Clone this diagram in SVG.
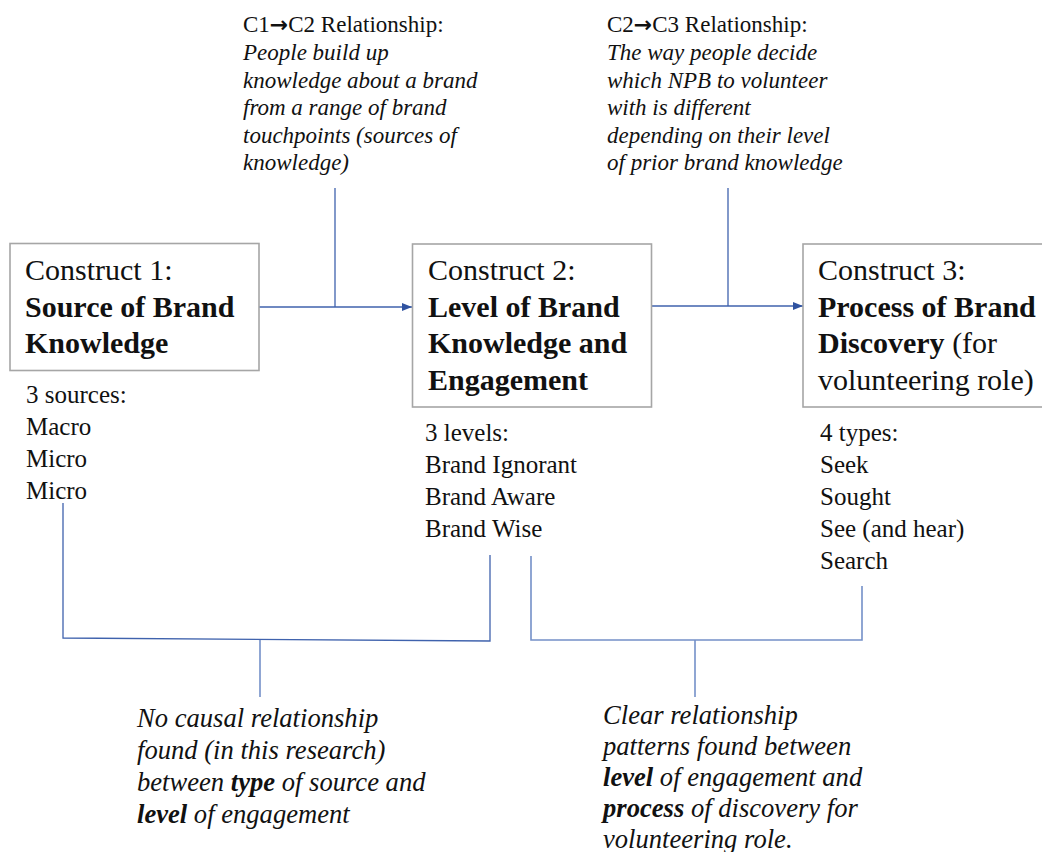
<svg xmlns="http://www.w3.org/2000/svg" width="1042" height="852" viewBox="0 0 1042 852">
<style>
text{font-family:"Liberation Serif","Times New Roman",Times,serif;fill:#111;}
.box{fill:#fff;stroke:#a6a6a6;stroke-width:1.6;}
.h{font-size:30px;}
.b{font-weight:bold;}
.sub{font-size:25px;}
.top{font-size:23px;}
.it{font-style:italic;}
.bot{font-size:26.6px;font-style:italic;}
.arr{font-family:"DejaVu Sans",sans-serif;font-weight:bold;font-size:22px;}
.c{fill:none;stroke:#3f62ad;stroke-width:1.3;}
.c2{fill:none;stroke:#7490c8;stroke-width:1.6;}
</style>
<defs>
<marker id="ah" viewBox="0 0 10 10" refX="10" refY="5" markerWidth="10" markerHeight="10" markerUnits="userSpaceOnUse" orient="auto">
<path d="M0,1 L10,5 L0,9 Z" fill="#2f52a0"/>
</marker>
</defs>
<g id="connectors">
<path class="c" d="M259,307 H412" marker-end="url(#ah)"/>
<path class="c" d="M335,188 V307"/>
<path class="c" d="M652,306 H803" marker-end="url(#ah)"/>
<path class="c" d="M728,188 V306"/>
<path class="c" d="M63,503 V638 L490,641 V555"/>
<path class="c2" d="M260,640 V697"/>
<path class="c2" d="M531,556 V640 H862 V586"/>
<path class="c2" d="M695,640 V697"/>
</g>
<g id="construct1">
<rect class="box" x="10" y="243.5" width="249" height="127"/>
<text class="h" x="25" y="280">Construct 1:</text>
<text class="h b" x="25" y="316.5">Source of Brand</text>
<text class="h b" x="25" y="353">Knowledge</text>
</g>
<g id="sources">
<text class="sub" x="26" y="403">3 sources:</text>
<text class="sub" x="26" y="435">Macro</text>
<text class="sub" x="26" y="467">Micro</text>
<text class="sub" x="26" y="499">Micro</text>
</g>
<g id="construct2">
<rect class="box" x="412.5" y="244" width="239" height="163"/>
<text class="h" x="428" y="280">Construct 2:</text>
<text class="h b" x="428" y="316.5">Level of Brand</text>
<text class="h b" x="428" y="353">Knowledge and</text>
<text class="h b" x="428" y="389.5">Engagement</text>
</g>
<g id="levels">
<text class="sub" x="425" y="441">3 levels:</text>
<text class="sub" x="425" y="473">Brand Ignorant</text>
<text class="sub" x="425" y="505">Brand Aware</text>
<text class="sub" x="425" y="537">Brand Wise</text>
</g>
<g id="construct3">
<rect class="box" x="803" y="244" width="260" height="163"/>
<text class="h" x="818" y="280">Construct 3:</text>
<text class="h b" x="818" y="316.5">Process of Brand</text>
<text class="h" x="818" y="353"><tspan class="b">Discovery</tspan> (for</text>
<text class="h" x="818" y="389.5">volunteering role)</text>
</g>
<g id="types">
<text class="sub" x="820" y="441">4 types:</text>
<text class="sub" x="820" y="473">Seek</text>
<text class="sub" x="820" y="505">Sought</text>
<text class="sub" x="820" y="537">See (and hear)</text>
<text class="sub" x="820" y="569">Search</text>
</g>
<g id="rel12">
<text class="top" x="243" y="32">C1<tspan class="arr">→</tspan>C2 Relationship:</text>
<text class="top it" x="243" y="60">People build up</text>
<text class="top it" x="243" y="87.5">knowledge about a brand</text>
<text class="top it" x="243" y="115">from a range of brand</text>
<text class="top it" x="243" y="142.5">touchpoints (sources of</text>
<text class="top it" x="243" y="170">knowledge)</text>
</g>
<g id="rel23">
<text class="top" x="607" y="32">C2<tspan class="arr">→</tspan>C3 Relationship:</text>
<text class="top it" x="607" y="60">The way people decide</text>
<text class="top it" x="607" y="87.5">which NPB to volunteer</text>
<text class="top it" x="607" y="115">with is different</text>
<text class="top it" x="607" y="142.5">depending on their level</text>
<text class="top it" x="607" y="170">of prior brand knowledge</text>
</g>
<g id="finding1">
<text class="bot" x="137" y="727">No causal relationship</text>
<text class="bot" x="137" y="759">found (in this research)</text>
<text class="bot" x="137" y="791">between <tspan class="b">type</tspan> of source and</text>
<text class="bot" x="137" y="823"><tspan class="b">level</tspan> of engagement</text>
</g>
<g id="finding2">
<text class="bot" x="603" y="724">Clear relationship</text>
<text class="bot" x="603" y="755">patterns found between</text>
<text class="bot" x="603" y="786"><tspan class="b">level</tspan> of engagement and</text>
<text class="bot" x="603" y="817"><tspan class="b">process</tspan> of discovery for</text>
<text class="bot" x="603" y="848">volunteering role.</text>
</g>
</svg>
